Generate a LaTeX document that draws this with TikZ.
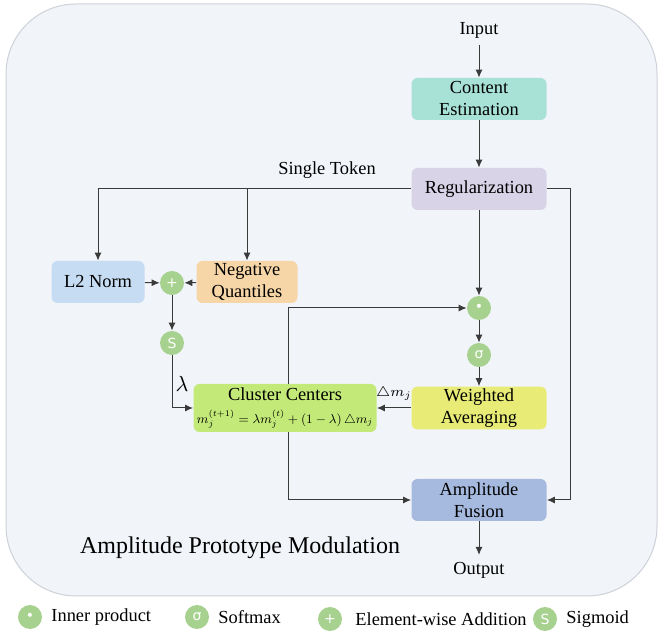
\documentclass[tikz,border=0pt]{standalone}
\usepackage{fontspec}
\usepackage{graphicx}
\setmainfont{Liberation Serif}
\newfontfamily\symfont{DejaVu Sans}
\usetikzlibrary{arrows.meta,positioning}

\definecolor{bgpanel}{HTML}{F1F4F9}
\definecolor{bgedge}{HTML}{CDD1D8}
\definecolor{tealbox}{HTML}{A8E2D7}
\definecolor{lilacbox}{HTML}{D9D3E8}
\definecolor{bluebox}{HTML}{C6DCF2}
\definecolor{peachbox}{HTML}{F6D5A6}
\definecolor{limebox}{HTML}{C3EA78}
\definecolor{yellowbox}{HTML}{E8EC76}
\definecolor{slatebox}{HTML}{A6B9DE}
\definecolor{opgreen}{HTML}{A7D18F}
\definecolor{linegrey}{HTML}{3A3A3A}

\begin{document}
\begin{tikzpicture}[x=0.5pt, y=-0.5pt,
  font=\fontsize{9.2}{11}\selectfont,
  block/.style={rounded corners=3pt, minimum width=67.5pt, minimum height=21pt,
    align=center, inner sep=1pt},
  op/.style={circle, fill=opgreen, minimum size=12pt, inner sep=0pt,
    text=white, font=\symfont\fontsize{7}{7}\selectfont},
  flow/.style={draw=linegrey, line width=0.5pt, -{Latex[length=4pt,width=3.5pt]}}]

  \useasboundingbox (0,0) rectangle (659,635);

  % -- Background panel --
  \draw[fill=bgpanel, draw=bgedge, line width=0.5pt, rounded corners=35pt]
    (6,4) rectangle (657,596);

  % -- Main column --
  \node (inp) at (479,30) {Input};
  \node[block, fill=tealbox] (est) at (479,99) {Content\\Estimation};
  \node[block, fill=lilacbox] (reg) at (479,189) {Regularization};
  \node (tok) at (327,170) {Single Token};
  \node[op] (dot) at (479,308) {•};
  \node[op] (sm) at (479,355) {σ};
  \node[block, fill=yellowbox] (wavg) at (479,408) {Weighted\\Averaging};
  \node[block, fill=slatebox] (fus) at (479,500) {Amplitude\\Fusion};
  \node (out) at (479,570) {Output};

  % -- Left branch --
  \node[block, fill=bluebox, minimum width=46.5pt] (l2) at (98,282) {L2 Norm};
  \node[op] (add) at (172,283) {+};
  \node[block, fill=peachbox, minimum width=50.5pt] (neg) at (247,282) {Negative\\Quantiles};
  \node[op] (sig) at (172,343) {S};
  \node[block, fill=limebox, minimum width=91.5pt, minimum height=24pt, inner sep=0.5pt] (clu) at (285,408)
    {Cluster Centers\\[0.3pt]\resizebox{88pt}{!}{$m_j^{(t+1)}=\lambda m_j^{(t)}+(1-\lambda)\,\triangle m_j$}};

  \coordinate (lft) at (98,189);
  \coordinate (rgt) at (570,189);

  % -- Connectors --
  \draw[flow] (inp) -- (est);
  \draw[flow] (est) -- (reg);
  \draw[flow] (reg.west) -- (lft) -- (l2.north);
  \draw[flow] (reg.west -| neg.north) -- (neg.north);
  \draw[flow] (reg.east) -- (rgt) |- (fus.east);
  \draw[flow] (l2) -- (add);
  \draw[flow] (neg) -- (add);
  \draw[flow] (add) -- (sig);
  \draw[flow] (sig) |- (clu.west);
  \node[font=\fontsize{11}{11}\selectfont] (lam) at (182,384) {$\lambda$};
  \draw[flow] (reg) -- (dot);
  \draw[flow] (dot) -- (sm);
  \draw[flow] (sm) -- (wavg);
  \draw[flow] (wavg) -- node[above, font=\fontsize{7.5}{8}\selectfont] {$\triangle m_j$} (clu);
  \draw[flow] ([xshift=1.5pt]clu.north) |- (dot);
  \draw[flow] ([xshift=1.5pt]clu.south) |- (fus.west);
  \draw[flow] (fus) -- (out);

  % -- Title --
  \node[font=\fontsize{12}{14}\selectfont] (title) at (240,548) {Amplitude Prototype Modulation};

  % -- Legend --
  \node[op] (lg1) at (30,617) {•};
  \node[right=1pt of lg1] {Inner product};
  \node[op] (lg2) at (197,617) {σ};
  \node[right=1pt of lg2] {Softmax};
  \node[op] (lg3) at (330,619) {+};
  \node[right=3pt of lg3] {Element-wise Addition};
  \node[op] (lg4) at (545,619) {S};
  \node[right=1pt of lg4] {Sigmoid};

\end{tikzpicture}
\end{document}
